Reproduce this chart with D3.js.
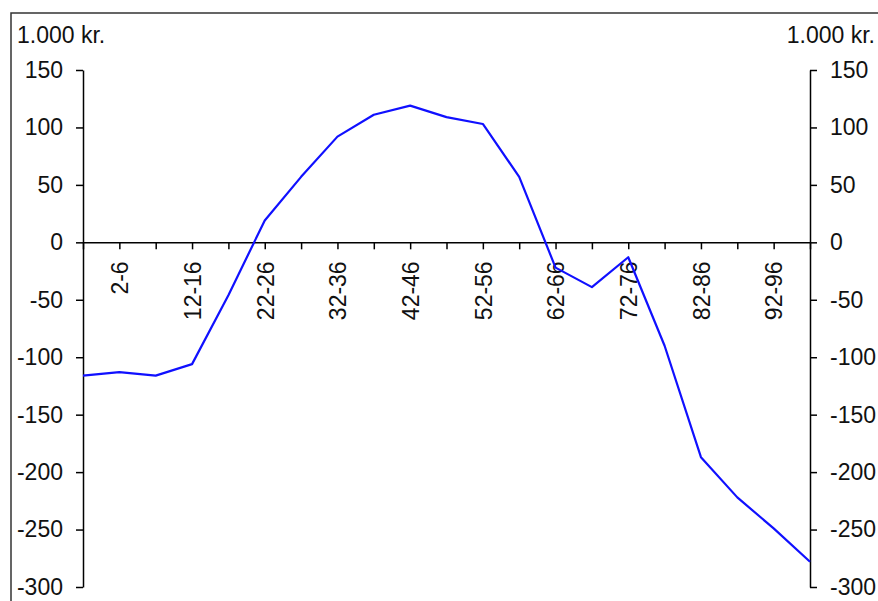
<!DOCTYPE html>
<html>
<head>
<meta charset="utf-8">
<script src="https://cdn.jsdelivr.net/npm/d3@7"></script>
<style>
  body { margin: 0; background: #fff; }
  svg { display: block; font-family: "Liberation Sans", Arial, sans-serif; }
  .axis text { font-size: 23px; fill: #111; }
  .axis path, .axis line { stroke: #000; stroke-width: 1.5; }
</style>
</head>
<body>
<svg id="chart" width="878" height="601"></svg>
<script>
// aldersgrupper
const categories = ["0-1", "2-6", "7-11", "12-16", "17-21", "22-26", "27-31", "32-36",
  "37-41", "42-46", "47-51", "52-56", "57-61", "62-66", "67-71", "72-76",
  "77-81", "82-86", "87-91", "92-96", "97+"];

// nettobidrag, 1.000 kr.
const values = [-116, -113, -116, -106, -46, 19, 57, 92, 111, 119, 109, 103,
  57, -22, -39, -13, -90, -187, -222, -249, -278];

const yTicks = [150, 100, 50, 0, -50, -100, -150, -200, -250, -300];
const unitLabel = "1.000 kr.";

const svg = d3.select("#chart");

const plotLeft = 83, plotRight = 810, plotTop = 70, plotBottom = 587;

// ramme
svg.append("rect")
  .attr("x", 11).attr("y", 13)
  .attr("width", 900).attr("height", 620)
  .attr("fill", "none")
  .attr("stroke", "#333")
  .attr("stroke-width", 1.5);

const x = d3.scalePoint()
  .domain(categories)
  .range([plotLeft, plotRight]);

const y = d3.scaleLinear()
  .domain([-300, 150])
  .range([plotBottom, plotTop]);

// venstre akse
svg.append("g")
  .attr("class", "axis")
  .attr("transform", `translate(${plotLeft},0)`)
  .call(d3.axisLeft(y).tickValues(yTicks).tickSize(7).tickSizeOuter(0)
    .tickPadding(13).tickFormat(d => String(d)));

// højre akse
svg.append("g")
  .attr("class", "axis")
  .attr("transform", `translate(${plotRight},0)`)
  .call(d3.axisRight(y).tickValues(yTicks).tickSize(7).tickSizeOuter(0)
    .tickPadding(13).tickFormat(d => String(d)));

// x-akse ved 0
const xAxis = svg.append("g")
  .attr("class", "axis")
  .attr("transform", `translate(0,${y(0)})`)
  .call(d3.axisBottom(x).tickSize(7).tickSizeOuter(0)
    .tickFormat((d, i) => i % 2 === 1 ? d : ""));

xAxis.selectAll("text")
  .attr("transform", "rotate(-90)")
  .attr("x", -19)
  .attr("y", 0)
  .attr("dy", "0.36em")
  .attr("text-anchor", "end");

// enhedsetiketter
svg.append("text")
  .attr("x", 17).attr("y", 43)
  .attr("font-size", "23px")
  .attr("fill", "#111")
  .text(unitLabel);

svg.append("text")
  .attr("x", 875).attr("y", 43)
  .attr("text-anchor", "end")
  .attr("font-size", "23px")
  .attr("fill", "#111")
  .text(unitLabel);

// linje
const line = d3.line()
  .x((d, i) => x(categories[i]))
  .y(d => y(d));

svg.append("path")
  .datum(values)
  .attr("fill", "none")
  .attr("stroke", "#1010ff")
  .attr("stroke-width", 2.2)
  .attr("stroke-linejoin", "round")
  .attr("d", line);
</script>
</body>
</html>
